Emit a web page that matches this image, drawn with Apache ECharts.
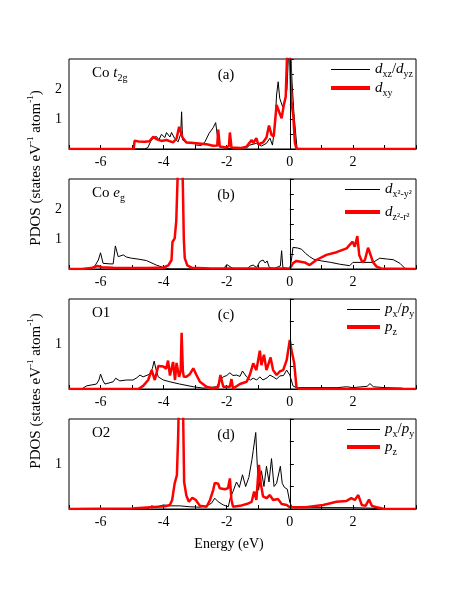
<!DOCTYPE html>
<html>
<head>
<meta charset="utf-8">
<script src="https://cdn.jsdelivr.net/npm/echarts@6/dist/echarts.min.js"></script>
<style>
html, body { margin: 0; padding: 0; background: #fff; }
#chart { width: 463px; height: 599px; }
</style>
</head>
<body>
<div id="chart"></div>
<script>
// tick labels
const energyTicks = [-6, -4, -2, 0, 2]
const coTicks = [1, 2]
const oTicks = [1]

// (a) Co t2g : [energy, PDOS]
const coXzYz = [[-7,0],[-4.6,0],[-4.5,0.05],[-4.39,0.3],[-4.3,0.38],[-4.23,0.42],[-4.15,0.3],[-4.07,0.49],[-3.96,0.38],[-3.91,0.55],[-3.8,0.4],[-3.75,0.55],[-3.65,0.35],[-3.54,0.24],[-3.46,0.5],[-3.43,1.24],[-3.4,0.3],[-3.28,0.22],[-3.06,0.22],[-2.96,0.13],[-2.8,0.12],[-2.69,0.24],[-2.56,0.52],[-2.43,0.71],[-2.35,0.88],[-2.3,0.47],[-2.24,0.08],[-2.0,0.02],[-1.6,0.03],[-1.37,0.04],[-1.27,0.13],[-1.06,0.19],[-0.9,0.1],[-0.74,0.19],[-0.63,0.36],[-0.55,0.13],[-0.47,0.8],[-0.42,1.8],[-0.37,2.24],[-0.32,1.69],[-0.23,1.41],[-0.16,1.58],[-0.09,2.0],[-0.04,3.2],[0.0,3.5],[0.03,3.2],[0.07,2.24],[0.13,1.19],[0.19,0.47],[0.23,0.02],[1,0.01],[4,0]]
const coXy = [[-7,0],[-4.95,0],[-4.92,0.28],[-4.8,0.25],[-4.6,0.24],[-4.45,0.26],[-4.33,0.41],[-4.23,0.33],[-4.07,0.27],[-3.91,0.3],[-3.7,0.22],[-3.59,0.35],[-3.51,0.74],[-3.47,0.8],[-3.4,0.38],[-3.28,0.22],[-2.96,0.19],[-2.64,0.16],[-2.43,0.11],[-2.3,0.12],[-2.27,0.65],[-2.22,0.08],[-2.01,0.05],[-1.93,0.1],[-1.9,0.55],[-1.85,0.05],[-1.58,0.03],[-1.37,0.08],[-1.21,0.3],[-1.16,0.2],[-1.06,0.36],[-1.0,0.15],[-0.85,0.22],[-0.74,0.38],[-0.66,0.78],[-0.58,0.47],[-0.51,0.42],[-0.42,1.47],[-0.34,1.24],[-0.26,1.02],[-0.19,1.47],[-0.13,1.74],[-0.085,3.2],[-0.04,3.5],[0,3.3],[0.05,1.6],[0.11,1.1],[0.16,0.22],[0.21,0],[4,0]]

// (b) Co eg
const coX2Y2 = [[-7,0],[-6.3,0],[-6.18,0.1],[-6.07,0.3],[-6.0,0.54],[-5.92,0.19],[-5.7,0.17],[-5.6,0.17],[-5.53,0.77],[-5.44,0.41],[-5.28,0.47],[-5.18,0.4],[-5.02,0.36],[-4.81,0.33],[-4.75,0.39],[-4.54,0.28],[-4.23,0.13],[-4.01,0.05],[-3.8,0],[-2.1,0],[-2.0,0.15],[-1.9,0.08],[-1.8,0.02],[-1.35,0.02],[-1.25,0.1],[-1.16,0.13],[-1.05,0.05],[-0.95,0.25],[-0.85,0.3],[-0.78,0.2],[-0.72,0.27],[-0.65,0.05],[-0.5,0.02],[-0.3,0.1],[-0.26,0.61],[-0.22,0.05],[0,0],[0.05,0.3],[0.1,0.72],[0.16,0.78],[0.25,0.7],[0.37,0.66],[0.5,0.52],[0.63,0.41],[0.75,0.33],[1.0,0.27],[1.3,0.22],[1.58,0.16],[1.9,0.11],[2.0,0.22],[2.3,0.22],[2.64,0.22],[2.85,0.36],[3.1,0.33],[3.28,0.31],[3.49,0.19],[3.65,0.02],[4,0]]
const coZ2R2 = [[-7,0],[-6.6,0],[-6.3,0.03],[-6.1,0.1],[-6.04,0.15],[-5.95,0.06],[-5.6,0.04],[-4.5,0.03],[-4.0,0.05],[-3.85,0.12],[-3.75,0.3],[-3.72,0.9],[-3.65,1.02],[-3.6,1.6],[-3.55,3.3],[-3.47,3.6],[-3.4,3.3],[-3.36,1.0],[-3.33,0.36],[-3.25,0.12],[-3.1,0.04],[-2.5,0.02],[-0.5,0.02],[0,0.02],[0.05,0.1],[0.1,0.19],[0.21,0.27],[0.47,0.22],[0.63,0.13],[0.84,0.3],[1.16,0.47],[1.48,0.56],[1.8,0.69],[1.99,0.91],[2.06,0.74],[2.14,1.1],[2.2,0.47],[2.3,0.22],[2.38,0.3],[2.48,0.71],[2.55,0.5],[2.64,0.22],[2.75,0.08],[2.9,0.02],[4,0]]

// (c) O1
const o1Pxy = [[-7,0],[-6.6,0],[-6.44,0.07],[-6.13,0.11],[-6.05,0.2],[-6.0,0.33],[-5.92,0.18],[-5.86,0.11],[-5.6,0.16],[-5.52,0.24],[-5.39,0.18],[-5.18,0.2],[-4.97,0.2],[-4.85,0.25],[-4.75,0.31],[-4.65,0.27],[-4.44,0.33],[-4.36,0.45],[-4.3,0.62],[-4.23,0.4],[-4.17,0.27],[-4.01,0.2],[-3.8,0.16],[-3.49,0.11],[-3.06,0.05],[-2.75,0.02],[-2.32,0.05],[-2.2,0.2],[-2.11,0.27],[-2.0,0.3],[-1.9,0.36],[-1.8,0.3],[-1.69,0.31],[-1.58,0.28],[-1.5,0.4],[-1.37,0.27],[-1.25,0.2],[-1.16,0.24],[-1.05,0.2],[-0.95,0.27],[-0.85,0.2],[-0.72,0.25],[-0.63,0.31],[-0.53,0.27],[-0.42,0.22],[-0.32,0.29],[-0.2,0.3],[-0.1,0.42],[0,0.31],[0.1,0.07],[0.2,0.03],[1.5,0.03],[1.8,0.05],[2.0,0.03],[2.45,0.06],[2.54,0.12],[2.65,0.05],[3.0,0.03],[3.55,0.02],[3.65,0],[4,0]]
const o1Pz = [[-7,0],[-4.8,0],[-4.65,0.07],[-4.49,0.2],[-4.38,0.42],[-4.28,0.2],[-4.17,0.51],[-4.12,0.53],[-4.01,0.5],[-3.92,0.45],[-3.86,0.63],[-3.8,0.3],[-3.75,0.27],[-3.7,0.6],[-3.64,0.2],[-3.59,0.58],[-3.51,0.27],[-3.46,0.4],[-3.43,1.25],[-3.39,0.4],[-3.36,0.27],[-3.28,0.27],[-3.17,0.33],[-3.06,0.46],[-2.96,0.31],[-2.85,0.16],[-2.64,0.05],[-2.43,0.01],[-2.27,0.04],[-2.2,0.31],[-2.11,0.05],[-1.9,0.05],[-1.85,0.22],[-1.8,0.01],[-1.58,0.11],[-1.37,0.16],[-1.27,0.31],[-1.16,0.57],[-1.06,0.42],[-0.95,0.85],[-0.9,0.53],[-0.82,0.76],[-0.74,0.42],[-0.61,0.7],[-0.53,0.42],[-0.42,0.31],[-0.32,0.39],[-0.21,0.42],[-0.1,0.64],[0,1.09],[0.05,0.87],[0.14,0.57],[0.21,0.04],[0.3,0],[4,0]]

// (d) O2
const o2Pxy = [[-7,0],[-4.55,0],[-4.38,0.07],[-4.23,0.04],[-4.01,0.09],[-3.8,0.07],[-3.49,0.07],[-3.17,0.05],[-2.85,0.04],[-2.64,0.07],[-2.48,0.13],[-2.38,0.24],[-2.27,0.16],[-2.11,0.09],[-1.95,0.05],[-1.88,0.27],[-1.8,0.39],[-1.69,0.6],[-1.6,0.48],[-1.5,0.76],[-1.4,0.5],[-1.3,0.7],[-1.2,1.1],[-1.16,1.3],[-1.08,1.7],[-1.04,1.09],[-0.99,0.42],[-0.9,0.85],[-0.82,0.5],[-0.74,0.95],[-0.66,0.6],[-0.58,1.12],[-0.5,0.5],[-0.42,0.57],[-0.3,0.95],[-0.24,0.57],[-0.17,0.48],[-0.08,0.44],[0,0.15],[0.05,0.07],[0.15,0.03],[2,0.03],[3,0.01],[4,0]]
const o2Pz = [[-7,0],[-5,0.01],[-3.95,0.06],[-3.8,0.09],[-3.73,0.2],[-3.65,0.57],[-3.58,0.75],[-3.54,1.6],[-3.5,3.0],[-3.42,3.2],[-3.38,2.0],[-3.35,0.6],[-3.28,0.3],[-3.2,0.16],[-3.09,0.25],[-2.98,0.2],[-2.85,0.07],[-2.64,0.05],[-2.53,0.2],[-2.43,0.42],[-2.38,0.58],[-2.27,0.56],[-2.22,0.46],[-2.06,0.44],[-1.96,0.46],[-1.9,0.68],[-1.85,0.2],[-1.8,0.05],[-1.58,0.07],[-1.37,0.11],[-1.21,0.16],[-1.13,0.39],[-1.06,0.2],[-0.98,0.98],[-0.92,0.57],[-0.85,0.28],[-0.74,0.24],[-0.63,0.31],[-0.53,0.2],[-0.37,0.22],[-0.26,0.11],[-0.1,0.09],[0,0.04],[0.5,0.04],[1.06,0.09],[1.48,0.16],[1.8,0.18],[1.95,0.24],[2.06,0.2],[2.17,0.31],[2.28,0.09],[2.4,0.07],[2.51,0.21],[2.6,0.07],[2.75,0.04],[3,0],[4,0]]

const font = "Liberation Serif"
const panelTop = [59, 179, 299, 419]
const panelMax = [3, 3, 2, 2]
const panelData = [[coXzYz, coXy], [coX2Y2, coZ2R2], [o1Pxy, o1Pz], [o2Pxy, o2Pz]]
const panelNames = [["dxz/dyz", "dxy"], ["dx2-y2", "dz2-r2"], ["O1 px/py", "O1 pz"], ["O2 px/py", "O2 pz"]]

// legend text as rich strings
const legendText = {
	"dxz/dyz": "{i|d}{s|xz}{n|/}{i|d}{s|yz}",
	"dxy": "{i|d}{s|xy}",
	"dx2-y2": "{i|d}{s|x²-y²}",
	"dz2-r2": "{i|d}{s|z²-r²}",
	"O1 px/py": "{i|p}{s|x}{n|/}{i|p}{s|y}",
	"O1 pz": "{i|p}{s|z}",
	"O2 px/py": "{i|p}{s|x}{n|/}{i|p}{s|y}",
	"O2 pz": "{i|p}{s|z}"
}

const rich = {
	i: { fontFamily: font, fontStyle: "italic", fontSize: 15, lineHeight: 20, color: "#000" },
	n: { fontFamily: font, fontSize: 15, lineHeight: 20, color: "#000" },
	s: { fontFamily: font, fontSize: 10, lineHeight: 8, verticalAlign: "bottom", color: "#000" },
	u: { fontFamily: font, fontSize: 9, lineHeight: 8, verticalAlign: "top", color: "#000" }
}

const legendPos = [
	{ left: 329, top: 62, width: 39, gap: 1 },
	{ left: 343, top: 182, width: 35, gap: 5 },
	{ left: 345, top: 302, width: 33, gap: 0 },
	{ left: 345, top: 422, width: 33, gap: 0 }
]

const grid = panelTop.map(t => ({
	left: 69, width: 347, top: t, height: 90,
	show: true, borderColor: "#000", borderWidth: 1
}))

const xAxis = panelTop.map((t, i) => ({
	gridIndex: i,
	type: "value",
	min: -7,
	max: 4,
	interval: 1,
	axisLine: { lineStyle: { color: "#000", width: 1 } },
	axisTick: { inside: true, length: 4, lineStyle: { color: "#000" } },
	axisLabel: {
		margin: 6,
		color: "#000",
		fontFamily: font,
		fontSize: 14,
		formatter: v => (energyTicks.includes(v) ? String(v) : "")
	},
	splitLine: { show: false }
}))

const yAxis = panelTop.map((t, i) => ({
	gridIndex: i,
	type: "value",
	min: 0,
	max: panelMax[i],
	interval: 0.5,
	axisLine: { show: true, lineStyle: { color: "#000", width: 1 } },
	axisTick: { show: true, inside: true, length: 4, lineStyle: { color: "#000" } },
	axisLabel: {
		margin: 7,
		color: "#000",
		fontFamily: font,
		fontSize: 14,
		formatter: v => ((i < 2 ? coTicks : oTicks).includes(v) ? String(v) : "")
	},
	splitLine: { show: false }
}))

const series = []
panelData.forEach((pair, i) => {
	series.push({
		name: panelNames[i][0],
		type: "line",
		xAxisIndex: i,
		yAxisIndex: i,
		data: pair[0],
		symbol: "none",
		color: "#000",
		lineStyle: { color: "#000", width: 1 },
		markLine: {
			silent: true,
			symbol: "none",
			label: { show: false },
			lineStyle: { color: "#000", width: 1, type: "solid" },
			data: [{ xAxis: 0 }]
		}
	})
	series.push({
		name: panelNames[i][1],
		type: "line",
		xAxisIndex: i,
		yAxisIndex: i,
		data: pair[1],
		symbol: "none",
		color: "#ff0000",
		lineStyle: { color: "#ff0000", width: 2.5 }
	})
})

// only the line sample, no symbol, in the legend
const hideSymbol = { opacity: 0, borderWidth: 0 }
const legend = legendPos.map((p, i) => ({
	orient: "vertical",
	left: p.left,
	top: p.top,
	padding: 0,
	itemWidth: p.width,
	itemHeight: 14,
	itemGap: p.gap,
	selectedMode: false,
	data: [
		{ name: panelNames[i][0], itemStyle: hideSymbol, lineStyle: { width: 1, color: "#000" } },
		{ name: panelNames[i][1], itemStyle: hideSymbol, lineStyle: { width: 4, color: "#ff0000" } }
	],
	formatter: name => legendText[name],
	textStyle: { fontFamily: font, fontSize: 15, color: "#000", rich }
}))

// panel labels
const panelLabels = ["{n|Co }{i|t}{s|2g}", "{n|Co }{i|e}{s|g}", "{n|O1}", "{n|O2}"]
const panelTags = ["(a)", "(b)", "(c)", "(d)"]
const graphic = []
panelTop.forEach((t, i) => {
	graphic.push({
		type: "text", x: 92, y: t + 14,
		style: { text: panelLabels[i], rich, verticalAlign: "middle" }
	})
	graphic.push({
		type: "text", x: 226, y: t + 16,
		style: { text: panelTags[i], fontFamily: font, fontSize: 15, fill: "#000", align: "center", verticalAlign: "middle" }
	})
})
const yName = "{n|PDOS (states eV}{u|-1}{n| atom}{u|-1}{n|)}"
;[168, 391].forEach(y => {
	graphic.push({
		type: "text", x: 36, y: y, rotation: Math.PI / 2,
		style: { text: yName, rich, align: "center", verticalAlign: "middle" }
	})
})
graphic.push({
	type: "text", x: 229, y: 544,
	style: { text: "Energy (eV)", fontFamily: font, fontSize: 14, fill: "#000", align: "center", verticalAlign: "middle" }
})

const chart = echarts.init(document.getElementById("chart"))
chart.setOption({
	animation: false,
	backgroundColor: "#fff",
	grid,
	xAxis,
	yAxis,
	legend,
	series,
	graphic
})
</script>
</body>
</html>
